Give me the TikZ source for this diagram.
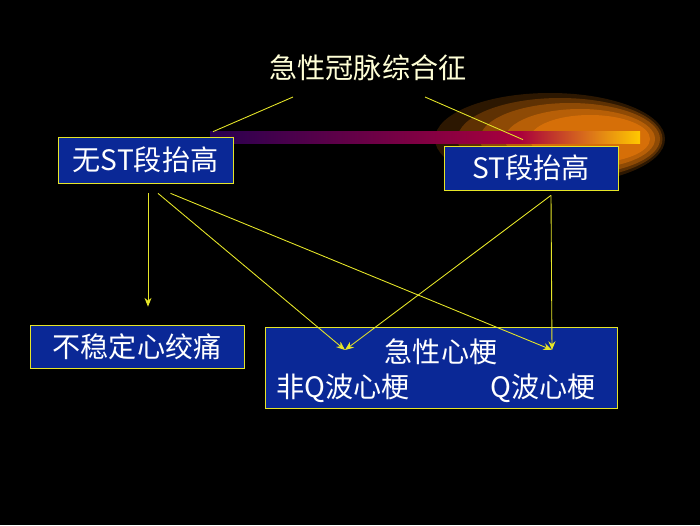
\documentclass[tikz,border=0pt]{standalone}
\usepackage{fontspec}
\setmainfont{Noto Sans CJK SC}
\usetikzlibrary{arrows.meta, positioning}
\definecolor{boxblue}{RGB}{10,40,150}
\definecolor{linky}{RGB}{230,230,40}
\definecolor{titley}{RGB}{255,255,215}
\begin{document}
\begin{tikzpicture}[>={Stealth[length=5pt,width=4pt]},
  box/.style={draw=linky, fill=boxblue, text=white, font=\fontsize{16}{18}\selectfont, inner sep=0pt},
  link/.style={draw=linky, line width=0.5pt}]
\fill[black] (0,0) rectangle (14,10.5);
\useasboundingbox (0,0) rectangle (14,10.5);
% glow behind the bar
\foreach \cx/\r/\o in {11.0/2.3/0.18, 11.2/2.05/0.25, 11.4/1.8/0.32, 11.6/1.5/0.4, 11.8/1.2/0.5}
  \fill[orange!85!brown, opacity=\o] (\cx,7.72) ellipse ({\r} and {\r*0.4});
\shade[left color={rgb,255:red,40;green,0;blue,80}, right color={rgb,255:red,170;green,0;blue,60}] (4.2,7.62) rectangle (10.4,7.86);
\shade[left color={rgb,255:red,170;green,0;blue,60}, right color={rgb,255:red,255;green,200;blue,0}] (10.4,7.62) rectangle (12.8,7.86);
% nodes
\node[text=titley, font=\fontsize{16}{18}\selectfont] (acs) at (7.36,9.14) {急性冠脉综合征};
\node[box, minimum width=3.5cm, minimum height=0.92cm] (nst) at (2.91,7.3) {无ST段抬高};
\node[box, minimum width=3.48cm, minimum height=0.88cm] (st) at (10.62,7.14) {ST段抬高};
\node[box, minimum width=4.28cm, minimum height=0.86cm] (ua) at (2.74,3.57) {不稳定心绞痛};
\node[box, minimum width=7.04cm, minimum height=1.62cm] (ami) at (8.82,3.15) {};
\node[text=white, font=\fontsize{16}{18}\selectfont] (amit) at (8.82,3.47) {急性心梗};
\node[text=white, font=\fontsize{16}{18}\selectfont] (nqw) at (6.86,2.74) {非Q波心梗};
\node[text=white, font=\fontsize{16}{18}\selectfont] (qw) at (10.86,2.74) {Q波心梗};
\coordinate (nqend) at (6.9,3.5);
\coordinate (qend) at (11.04,3.5);
% connectors
\draw[link] ([xshift=-1.5cm,yshift=-0.58cm]acs.center) -- ([xshift=1.35cm,yshift=0.1cm]nst.north);
\draw[link] ([xshift=1.14cm,yshift=-0.58cm]acs.center) -- ([xshift=-0.16cm,yshift=0.12cm]st.north);
\draw[link,->] ([xshift=0.05cm,yshift=-0.2cm]nst.south) -- ([xshift=0.22cm,yshift=0.36cm]ua.north);
\draw[link,->] ([xshift=0.25cm,yshift=-0.2cm]nst.south) -- (nqend);
\draw[link,->] ([xshift=0.5cm,yshift=-0.2cm]nst.south) -- (qend);
\draw[link,->] ([xshift=0.4cm,yshift=-0.1cm]st.south) -- (nqend);
\draw[link,->] ([xshift=0.4cm,yshift=-0.1cm]st.south) -- (qend);
\end{tikzpicture}
\end{document}
